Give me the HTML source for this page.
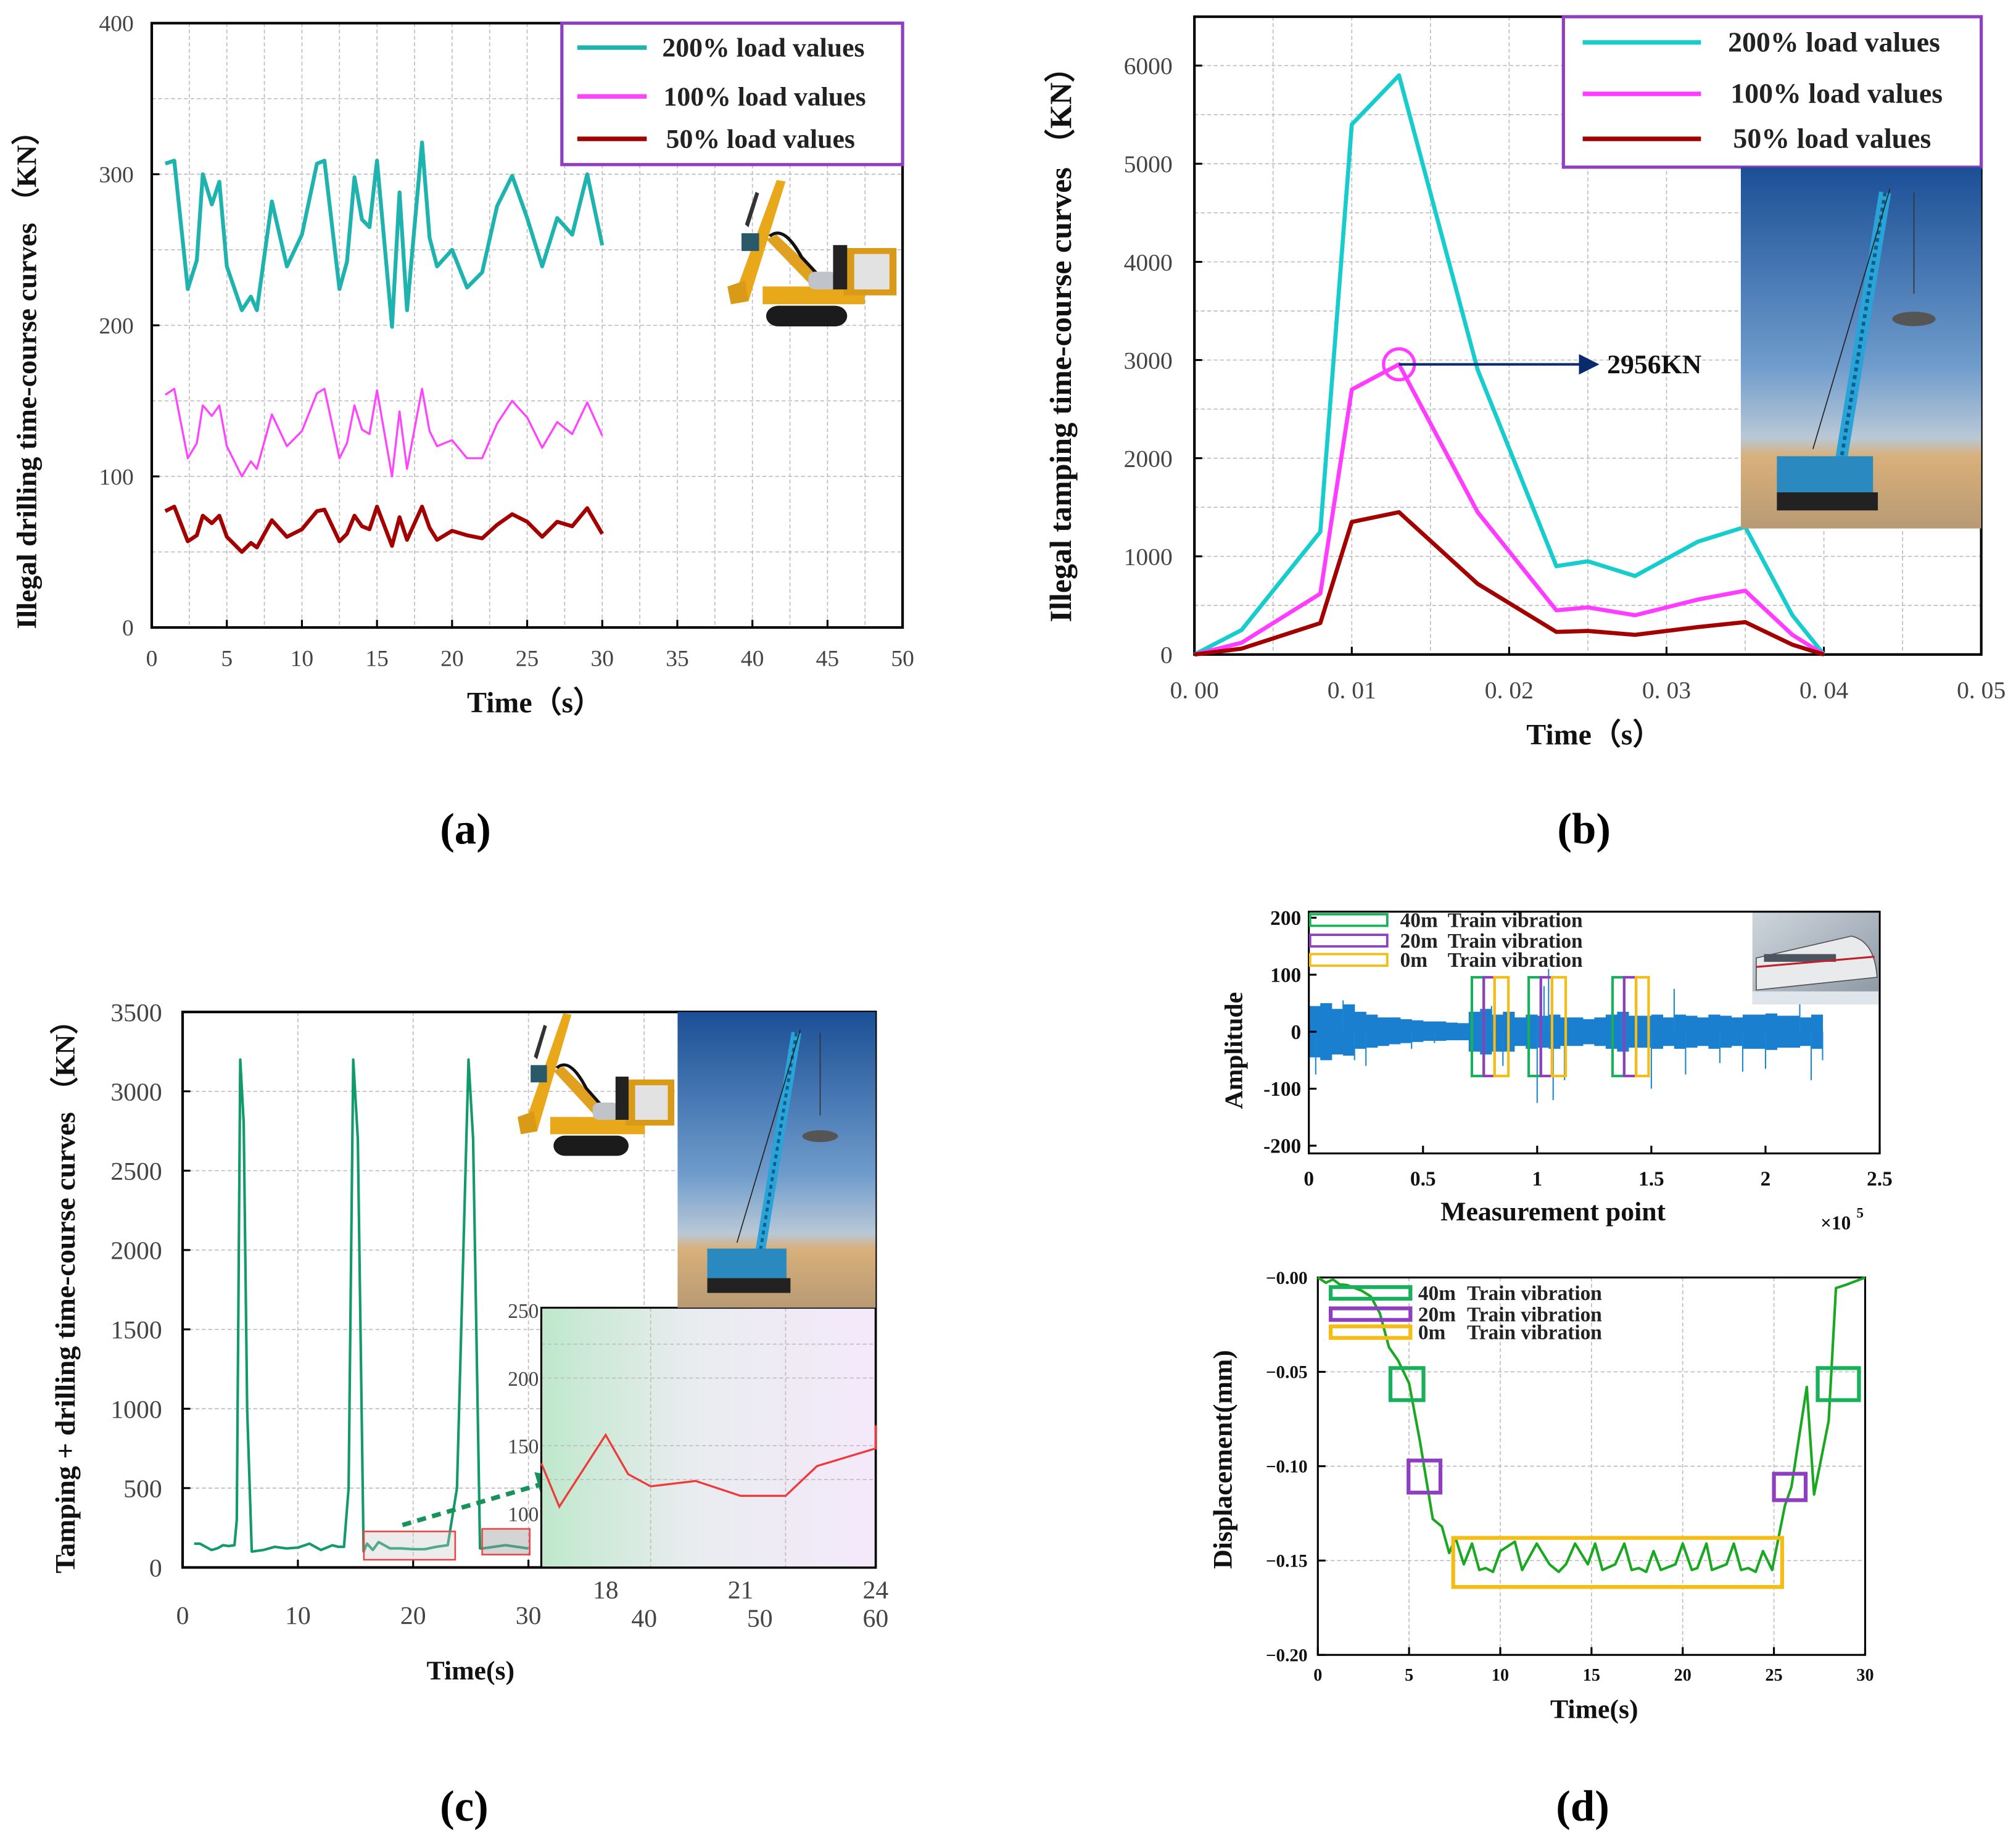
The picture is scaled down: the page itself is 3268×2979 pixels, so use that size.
<!DOCTYPE html>
<html><head><meta charset="utf-8"><style>
html,body{margin:0;padding:0;background:#fff;}
svg{display:block;}
text{font-family:"Liberation Serif",serif;}
</style></head><body>
<svg id="fig" xmlns="http://www.w3.org/2000/svg" width="3268" height="2979" viewBox="0 0 1568 1429.4">
<defs>
<linearGradient id="sky" x1="0" y1="0" x2="0" y2="1"><stop offset="0" stop-color="#1b4f96"/><stop offset="0.55" stop-color="#6f9ccc"/><stop offset="0.75" stop-color="#b9c8d6"/><stop offset="0.8" stop-color="#d8b07a"/><stop offset="1" stop-color="#b89a74"/></linearGradient>
<linearGradient id="insetbg" x1="0" y1="0" x2="1" y2="0"><stop offset="0" stop-color="#bfe8cc"/><stop offset="0.45" stop-color="#e9ecef"/><stop offset="1" stop-color="#f4e9fb"/></linearGradient>
<linearGradient id="trainbg" x1="0" y1="0" x2="1" y2="1"><stop offset="0" stop-color="#cfd6dd"/><stop offset="1" stop-color="#8a96a3"/></linearGradient>
<marker id="arrB" markerWidth="8" markerHeight="8" refX="6" refY="4" orient="auto"><path d="M0,0 L8,4 L0,8 z" fill="#0a2a6e"/></marker>
<marker id="arrG" markerWidth="6" markerHeight="6" refX="4" refY="3" orient="auto"><path d="M0,0 L6,3 L0,6 z" fill="#17925a"/></marker>
</defs>
</svg>
<script>
// ---------- Panel (a) data ----------
const aTime = [0.9,1.5,2.4,3,3.4,4,4.5,5,6,6.6,7,8,9,10,11,11.5,12.5,13,13.5,14,14.5,15,16,16.5,17,18,18.5,19,20,21,22,23,24,25,26,27,28,29,30];
const a200 = [307,309,224,243,300,280,295,239,210,219,210,282,239,260,307,309,224,242,298,270,265,309,199,288,210,321,258,239,250,225,235,279,299,271,239,271,260,300,253];
const a100 = [154,158,112,122,147,140,147,120,100,110,105,141,120,130,155,158,112,122,147,131,128,157,100,143,105,158,130,120,124,112,112,135,150,139,119,136,128,149,127];
const a50 = [77,80,57,61,74,69,74,60,50,56,53,71,60,65,77,78,57,62,74,67,65,80,54,73,58,80,66,58,64,61,59,68,75,70,60,70,67,79,62];
const aXTicks = [0,5,10,15,20,25,30,35,40,45,50];
const aYTicks = [0,100,200,300,400];
// ---------- Panel (b) data ----------
const bTime = [0,0.003,0.008,0.01,0.013,0.018,0.023,0.025,0.028,0.032,0.035,0.038,0.04];
const b200 = [0,250,1250,5400,5900,2900,900,950,800,1150,1300,400,0];
const b100 = [0,120,620,2700,2956,1450,450,480,400,560,650,200,0];
const b50 = [0,60,320,1350,1450,720,230,240,200,280,330,100,0];
const bXTicks = [0,0.01,0.02,0.03,0.04,0.05];
const bXLabels = ["0. 00","0. 01","0. 02","0. 03","0. 04","0. 05"];
const bYTicks = [0,1000,2000,3000,4000,5000,6000];
const bPeakValue = 2956;
// ---------- Panel (c) data ----------
const cTime = [1,1.5,2.5,3,3.5,4,4.5,4.7,5,5.3,5.6,6,7,8,9,10,11,12,13,13.5,14,14.4,14.8,15.2,15.7,16,16.5,17,18,19,20,21,22,23,23.8,24.8,25.2,25.8,26,27,28,29,30];
const cLoad = [150,150,110,120,140,135,140,300,3200,2800,1000,100,110,130,120,125,150,110,140,130,130,500,3200,2700,100,150,110,160,120,120,115,115,130,140,500,3200,2700,120,120,130,140,130,120];
const cXTicks = [0,10,20,30];
const cYTicks = [0,500,1000,1500,2000,2500,3000,3500];
const cInsetTime = [16.57,16.97,18,18.5,19,20,21,22,22.7,24,24];
const cInsetLoad = [137,105,158,129,120,124,113,113,135,148,165];
const cInsetYTicks = [100,150,200,250];
const cInsetXTicks = [18,21,24];
const cExtraXTicks = [40,50,60];
// ---------- Panel (d) top data ----------
const dBinStart = [0,0.05,0.1,0.15,0.2,0.25,0.3,0.35,0.4,0.45,0.5,0.55,0.6,0.65,0.7,0.75,0.8,0.85,0.9,0.95,1.0,1.05,1.1,1.15,1.2,1.25,1.3,1.35,1.4,1.45,1.5,1.55,1.6,1.65,1.7,1.75,1.8,1.85,1.9,1.95,2.0,2.05,2.1,2.15,2.2];
const dUpper = [45,50,40,48,35,30,25,25,22,20,18,18,16,15,35,40,30,35,25,30,28,30,25,25,22,25,30,35,28,28,30,25,30,28,25,30,28,25,30,30,32,28,28,25,30];
const dLower = [-45,-50,-40,-42,-30,-28,-25,-22,-20,-18,-16,-16,-15,-15,-35,-40,-35,-35,-25,-30,-28,-30,-25,-25,-22,-25,-30,-35,-28,-28,-30,-25,-30,-28,-25,-30,-28,-25,-30,-30,-32,-28,-28,-25,-30];
const dSpikeX = [0.03,0.15,0.2,0.25,0.45,0.55,0.8,0.85,1.0,1.03,1.05,1.07,1.12,1.5,1.6,1.65,1.8,1.9,2.0,2.15,2.2,2.25];
const dSpikeY = [-75,55,-50,-60,-30,-20,45,-60,-125,80,110,-120,-85,-100,75,-75,-55,-70,-65,55,-85,-50];
const dXTicks = [0,0.5,1,1.5,2,2.5];
const dYTicks = [-200,-100,0,100,200];
// ---------- Panel (d) bottom data ----------
const eTime = [0,0.44,0.83,1.2,1.6,2.4,2.9,3.4,3.9,4.4,5,5.6,6.3,6.8,7.2,7.55,8,8.45,8.85,9.2,9.6,10,10.8,11.2,12,12.7,13.2,13.6,14.1,14.8,15.2,15.6,16.3,16.8,17.2,17.6,18,18.4,18.8,19.6,20,20.5,20.8,21.3,21.6,22.4,22.8,23.2,23.6,24,24.4,24.9,25.6,25.96,26.8,27.2,28,28.4,29,30];
const eDisp = [0,-0.0028,-0.001,-0.0037,-0.004,-0.007,-0.01,-0.019,-0.037,-0.044,-0.056,-0.087,-0.128,-0.132,-0.146,-0.138,-0.152,-0.141,-0.155,-0.154,-0.156,-0.145,-0.140,-0.155,-0.141,-0.152,-0.156,-0.152,-0.141,-0.152,-0.141,-0.155,-0.152,-0.141,-0.155,-0.154,-0.156,-0.145,-0.155,-0.152,-0.141,-0.155,-0.154,-0.141,-0.155,-0.152,-0.141,-0.155,-0.154,-0.156,-0.145,-0.155,-0.121,-0.111,-0.058,-0.115,-0.076,-0.0056,-0.0037,0];
const eXTicks = [0,5,10,15,20,25,30];
const eYTicks = [0,-0.05,-0.1,-0.15,-0.2];
const eYLabels = ["\u22120.00","\u22120.05","\u22120.10","\u22120.15","\u22120.20"];

const NS = "http://www.w3.org/2000/svg";
const svg = document.getElementById('fig');
function mk(tag, attrs, parent){
  const e = document.createElementNS(NS, tag);
  for (const k in attrs) e.setAttribute(k, attrs[k]);
  (parent || svg).appendChild(e);
  return e;
}
function txt(str, attrs, parent){
  const t = mk('text', attrs, parent);
  t.textContent = str;
  return t;
}
function scale(d0, d1, r0, r1){ return v => r0 + (v - d0) * (r1 - r0) / (d1 - d0); }
function pts(xs, ys, sx, sy){ return xs.map((x,i)=> sx(x).toFixed(2)+','+sy(ys[i]).toFixed(2)).join(' '); }

function gridV(vals, sx, y0, y1, name, g){
  vals.forEach(v=>{
    const l = mk('line',{x1:sx(v),x2:sx(v),y1:y0,y2:y1,stroke:'#bdbdbd','stroke-width':0.8,'stroke-dasharray':'3,2'}, g);
    
    
  });
}
function gridH(vals, sy, x0, x1, name, g){
  vals.forEach(v=>{
    const l = mk('line',{x1:x0,x2:x1,y1:sy(v),y2:sy(v),stroke:'#bdbdbd','stroke-width':0.8,'stroke-dasharray':'3,2'}, g);
    
    
  });
}
function frame(x0,y0,x1,y1,g,w){
  const r = mk('rect',{x:x0,y:y0,width:x1-x0,height:y1-y0,fill:'none',stroke:'#000','stroke-width':w||2}, g);
  
  
}
function xTicks(vals, labels, sx, y, ly, size, g, opts){
  vals.forEach((v,i)=>{
    const t = mk('line',{x1:sx(v),x2:sx(v),y1:y,y2:y-6,stroke:'#000','stroke-width':1.5}, g);
    
    
    const l = txt(labels[i], {x:sx(v),y:ly,'text-anchor':'middle','font-size':size,fill:(opts&&opts.fill)||'#444','font-weight':(opts&&opts.bold)?'bold':'normal'}, g);
    
    
  });
}
function yTicks(vals, labels, sy, x, lx, size, g, opts){
  vals.forEach((v,i)=>{
    const t = mk('line',{x1:x,x2:x+6,y1:sy(v),y2:sy(v),stroke:'#000','stroke-width':1.5}, g);
    
    
    const l = txt(labels[i], {x:lx,y:sy(v)+size*0.35,'text-anchor':'end','font-size':size,fill:(opts&&opts.fill)||'#444','font-weight':(opts&&opts.bold)?'bold':'normal'}, g);
    
    
  });
}
function drill(x, y, w, h, name){
  const g = mk('g',{transform:`translate(${x},${y}) scale(${w/100},${h/100})`});
  
  
  mk('rect',{x:24,y:85,width:46,height:14,rx:7,fill:'#1b1b1b'}, g);
  mk('path',{d:'M6,78 L30,0 L35,1 L14,82 Z',fill:'#e8a81a'}, g);
  mk('path',{d:'M12,30 L18,8 L20,9 L14,32 Z',fill:'#333'}, g);
  mk('rect',{x:10,y:36,width:10,height:12,fill:'#2a5a6a'}, g);
  mk('path',{d:'M24,40 L30,37 L62,73 L55,78 Z',fill:'#e0a020'}, g);
  mk('path',{d:'M26,38 Q34,30 44,52 L58,70',fill:'none',stroke:'#111','stroke-width':2}, g);
  mk('rect',{x:22,y:72,width:58,height:12,fill:'#e8a81a'}, g);
  mk('rect',{x:48,y:62,width:16,height:12,rx:4,fill:'#c0c4c8'}, g);
  mk('rect',{x:68,y:46,width:30,height:32,fill:'#d99a18'}, g);
  mk('rect',{x:74,y:50,width:20,height:24,fill:'#e2e2e2'}, g);
  mk('rect',{x:62,y:44,width:8,height:30,fill:'#222'}, g);
  mk('path',{d:'M2,72 L12,68 L14,82 L4,84 Z',fill:'#d99a18'}, g);
  return g;
}
function crane(x, y, w, h, name){
  const g = mk('g',{}); 
  
  mk('rect',{x:x,y:y,width:w,height:h,fill:'url(#sky)'}, g);
  mk('path',{d:`M${x+w*0.6},${y+h*0.07} L${x+w*0.4},${y+h*0.88}`,stroke:'#2aa3d8','stroke-width':w*0.05}, g);
  mk('path',{d:`M${x+w*0.6},${y+h*0.07} L${x+w*0.4},${y+h*0.88}`,stroke:'#0d5f8a','stroke-width':w*0.015,'stroke-dasharray':'3,3'}, g);
  mk('path',{d:`M${x+w*0.62},${y+h*0.06} L${x+w*0.3},${y+h*0.78}`,stroke:'#222','stroke-width':0.8}, g);
  mk('line',{x1:x+w*0.72,y1:y+h*0.07,x2:x+w*0.72,y2:y+h*0.35,stroke:'#333','stroke-width':0.8}, g);
  mk('ellipse',{cx:x+w*0.72,cy:y+h*0.42,rx:w*0.09,ry:h*0.02,fill:'#555'}, g);
  mk('rect',{x:x+w*0.15,y:y+h*0.8,width:w*0.4,height:h*0.1,fill:'#2a8ac0'}, g);
  mk('rect',{x:x+w*0.15,y:y+h*0.9,width:w*0.42,height:h*0.05,fill:'#222'}, g);
  return g;
}

// ===================== PANEL A =====================
(function(){
  const g = mk('g',{});  
  const sx = scale(0,50,118,702), sy = scale(0,400,488,18);
  gridV([2.5,5,7.5,10,12.5,15,17.5,20,22.5,25,27.5,30,32.5,35,37.5,40,42.5,45,47.5], sx, 18, 488, 'grid-line-vertical', g);
  gridH([50,100,150,200,250,300,350], sy, 118, 702, 'grid-line-horizontal', g);
  drill(563,140,137,115,'drill-rig-photo');
  frame(118,18,702,488,g);
  xTicks(aXTicks, aXTicks.map(String), sx, 488, 518, 18, g);
  yTicks(aYTicks, aYTicks.map(String), sy, 118, 104, 18, g);
  [[a200,'#1fb3b0',3,'line-200pct'],[a100,'#ff44ff',1.6,'line-100pct'],[a50,'#a30000',3,'line-50pct']].forEach(s=>{
    const p = mk('polyline',{points:pts(aTime,s[0],sx,sy),fill:'none',stroke:s[1],'stroke-width':s[2],'stroke-linejoin':'round'}, g);
    
    
  });
  const lg = mk('g',{}, g);  
  mk('rect',{x:437,y:18,width:265,height:110,fill:'#fff',stroke:'#8e3fbf','stroke-width':2.5}, lg);
  [['#1fb3b0',37,'200% load values',515],['#ff44ff',75,'100% load values',516],['#a30000',108,'50% load values',518]].forEach(e=>{
    const l = mk('line',{x1:449,x2:503,y1:e[1],y2:e[1],stroke:e[0],'stroke-width':3.5}, lg);
     
    const t = txt(e[2],{x:e[3],y:e[1]+7,'font-size':21,'font-weight':'bold',fill:'#222'}, lg);
     
  });
  const yt = txt('Illegal drilling time-course curves （KN）',{x:28,y:290,'text-anchor':'middle','font-size':22,'font-weight':'bold',transform:'rotate(-90,28,290)',fill:'#111'}, g);
   
  const xt = txt('Time（s）',{x:416,y:554,'text-anchor':'middle','font-size':23,'font-weight':'bold',fill:'#111'}, g);
   
  const pl = txt('(a)',{x:362,y:656,'text-anchor':'middle','font-size':34,'font-weight':'bold',fill:'#000'}, g);
   
})();

// ===================== PANEL B =====================
(function(){
  const g = mk('g',{});  
  const sx = scale(0,0.05,929,1541), sy = scale(0,6000,509,51);
  gridV([0.005,0.01,0.015,0.02,0.025,0.03,0.035,0.04,0.045], sx, 13, 509, 'grid-line-vertical', g);
  gridH([500,1000,1500,2000,2500,3000,3500,4000,4500,5000,5500,6000], sy, 929, 1541, 'grid-line-horizontal', g);
  crane(1354,130,187,281,'crane-photo');
  frame(929,13,1541,509,g);
  xTicks(bXTicks, bXLabels, sx, 509, 543, 19, g);
  yTicks(bYTicks, bYTicks.map(String), sy, 929, 912, 19, g);
  [[b200,'#16cccc',3.2,'line-200pct'],[b100,'#ff3cff',3.2,'line-100pct'],[b50,'#a30000',3.2,'line-50pct']].forEach(s=>{
    const p = mk('polyline',{points:pts(bTime,s[0],sx,sy),fill:'none',stroke:s[1],'stroke-width':s[2],'stroke-linejoin':'round'}, g);
    
    
  });
  const c = mk('circle',{cx:sx(bTime[4]),cy:sy(bPeakValue),r:12,fill:'none',stroke:'#ff3cff','stroke-width':2.5}, g);
   
  const a = mk('line',{x1:sx(bTime[4]),y1:sy(bPeakValue),x2:1240,y2:sy(bPeakValue),stroke:'#0a2a6e','stroke-width':2,'marker-end':'url(#arrB)'}, g);
   
  const at = txt(bPeakValue+'KN',{x:1250,y:sy(bPeakValue)+7,'font-size':21,'font-weight':'bold',fill:'#111'}, g);
   
  const lg = mk('g',{}, g);  
  mk('rect',{x:1216,y:13,width:325,height:117,fill:'#fff',stroke:'#8e3fbf','stroke-width':2.5}, lg);
  [['#16cccc',33,'200% load values',1344],['#ff3cff',73,'100% load values',1346],['#a30000',108,'50% load values',1348]].forEach(e=>{
    const l = mk('line',{x1:1231,x2:1323,y1:e[1],y2:e[1],stroke:e[0],'stroke-width':3.5}, lg);
     
    const t = txt(e[2],{x:e[3],y:e[1]+7,'font-size':22,'font-weight':'bold',fill:'#222'}, lg);
     
  });
  const yt = txt('Illegal tamping time-course curves （KN）',{x:833,y:262,'text-anchor':'middle','font-size':24,'font-weight':'bold',transform:'rotate(-90,833,262)',fill:'#111'}, g);
   
  const xt = txt('Time（s）',{x:1240,y:579,'text-anchor':'middle','font-size':23,'font-weight':'bold',fill:'#111'}, g);
   
  const pl = txt('(b)',{x:1232,y:656,'text-anchor':'middle','font-size':34,'font-weight':'bold',fill:'#000'}, g);
   
})();

// ===================== PANEL C =====================
(function(){
  const g = mk('g',{});  
  const sx = scale(0,30,142,411), sy = scale(0,3500,1219,787);
  gridV([10,20,30], sx, 787, 1219, 'grid-line-vertical', g);
  gridV([40,50], scale(30,60,411,681), 787, 1219, 'grid-line-vertical', g);
  gridH([500,1000,1500,2000,2500,3000], sy, 142, 681, 'grid-line-horizontal', g);
  frame(142,787,681,1219,g);
  yTicks(cYTicks, cYTicks.map(String), sy, 142, 126, 20, g);
  xTicks(cXTicks, cXTicks.map(String), sx, 1219, 1263, 20, g);
  const ex = scale(30,60,411,681);
  cExtraXTicks.forEach(v=>{
    const l = txt(String(v),{x:ex(v),y:1265,'text-anchor':'middle','font-size':20,fill:'#444'}, g);
     
  });
  const p = mk('polyline',{points:pts(cTime,cLoad,sx,sy),fill:'none',stroke:'#129a6a','stroke-width':2,'stroke-linejoin':'round'}, g);
  
  
  const b1 = mk('rect',{x:283,y:1191,width:71,height:22,fill:'rgba(200,200,200,0.35)',stroke:'#f04040','stroke-width':1.2}, g);
   
  const b2 = mk('rect',{x:375,y:1189,width:37,height:20,fill:'rgba(160,160,160,0.45)',stroke:'#f04040','stroke-width':1.2}, g);
   
  const da = mk('line',{x1:313,y1:1186,x2:432,y2:1151,stroke:'#17925a','stroke-width':3.5,'stroke-dasharray':'7,5','marker-end':'url(#arrG)'}, g);
   
  drill(400,788,127,112,'drill-rig-photo');
  crane(527,787,154,230,'crane-photo');
  const ig = mk('g',{}, g);  
  const ix = scale(16.57,24,421,681), iy = scale(100,250,1177,1019);
  mk('rect',{x:421,y:1017,width:260,height:202,fill:'url(#insetbg)'}, ig);
  gridV([19,22], ix, 1017, 1219, 'inset-grid-vertical', ig);
  gridH([125,150,200,225], iy, 421, 681, 'inset-grid-horizontal', ig);
  const ifr = mk('rect',{x:421,y:1017,width:260,height:202,fill:'none',stroke:'#000','stroke-width':1.5}, ig);
   
  cInsetYTicks.forEach(v=>{
    const l = txt(String(v),{x:419,y:iy(v)+6,'text-anchor':'end','font-size':16,fill:'#444'}, ig);
     
  });
  cInsetXTicks.forEach(v=>{
    const l = txt(String(v),{x:ix(v),y:1243,'text-anchor':'middle','font-size':20,fill:'#444'}, ig);
     
  });
  const ip = mk('polyline',{points:pts(cInsetTime,cInsetLoad,ix,iy),fill:'none',stroke:'#f03a3a','stroke-width':1.6}, ig);
  
  
  const yt = txt('Tamping + drilling time-course curves （KN）',{x:58,y:1003,'text-anchor':'middle','font-size':22,'font-weight':'bold',transform:'rotate(-90,58,1003)',fill:'#111'}, g);
   
  const xt = txt('Time(s)',{x:366,y:1306,'text-anchor':'middle','font-size':21,'font-weight':'bold',fill:'#111'}, g);
   
  const pl = txt('(c)',{x:361,y:1416,'text-anchor':'middle','font-size':34,'font-weight':'bold',fill:'#000'}, g);
   
})();

// ===================== PANEL D (top) =====================
(function(){
  const g = mk('g',{});  
  const sx = scale(0,2.5,1018,1462), sy = scale(-200,200,891,713.7);
  dBinStart.forEach((b,i)=>{
    const r = mk('rect',{x:sx(b),y:sy(dUpper[i]),width:sx(0.05)-sx(0)+0.3,height:sy(dLower[i])-sy(dUpper[i]),fill:'#1a7fcf'}, g);
    
    
  });
  dSpikeX.forEach((x,i)=>{
    const l = mk('line',{x1:sx(x),x2:sx(x),y1:sy(0),y2:sy(dSpikeY[i]),stroke:'#1a86d6','stroke-width':1}, g);
    
    
  });
  const groups = [[0.714,0.766,0.813,0.874],[0.963,1.016,1.065,1.125],[1.33,1.381,1.433,1.488]];
  groups.forEach(gr=>{
    [['#18b05a',0,1,'box-40m'],['#8e3fbf',1,2,'box-20m'],['#f5bd14',2,3,'box-0m']].forEach(c=>{
      const r = mk('rect',{x:sx(gr[c[1]]),y:sy(95.5),width:sx(gr[c[2]])-sx(gr[c[1]]),height:sy(-77.7)-sy(95.5),fill:'none',stroke:c[0],'stroke-width':2}, g);
      
      
    });
  });
  const tr = mk('g',{}, g);  
  mk('rect',{x:1363,y:709,width:98,height:72,fill:'url(#trainbg)'}, tr);
  mk('path',{d:'M1366,745 L1440,728 Q1458,732 1460,760 L1366,770 Z',fill:'#e8eaec',stroke:'#555','stroke-width':0.8}, tr);
  mk('rect',{x:1372,y:742,width:56,height:6,fill:'#4a5560'}, tr);
  mk('line',{x1:1366,y1:752,x2:1458,y2:744,stroke:'#c0202a','stroke-width':1.5}, tr);
  mk('rect',{x:1363,y:771,width:98,height:10,fill:'#dfe5ea'}, tr);
  frame(1018,709,1462,897,g,1.5);
  xTicks(dXTicks, dXTicks.map(String), sx, 897, 922, 16, g, {bold:true,fill:'#111'});
  yTicks(dYTicks, ['-200','-100','0','100','200'], sy, 1018, 1012, 16, g, {bold:true,fill:'#111'});
  const lg = mk('g',{}, g);  
  [['#18b05a',711,'40m'],['#8e3fbf',727,'20m'],['#f5bd14',742,'0m']].forEach(e=>{
    const r = mk('rect',{x:1019,y:e[1],width:60,height:9,fill:'none',stroke:e[0],'stroke-width':1.8}, lg);
     
    const t = txt(e[2],{x:1089,y:e[1]+10,'font-size':16,'font-weight':'bold',fill:'#222'}, lg);
     
    const t2 = txt('Train vibration',{x:1126,y:e[1]+10,'font-size':16,'font-weight':'bold',fill:'#222'}, lg);
     
  });
  const yt = txt('Amplitude',{x:966,y:817,'text-anchor':'middle','font-size':20,'font-weight':'bold',transform:'rotate(-90,966,817)',fill:'#111'}, g);
   
  const xt = txt('Measurement point',{x:1208,y:949,'text-anchor':'middle','font-size':21,'font-weight':'bold',fill:'#111'}, g);
   
  const ex = txt('×10',{x:1416,y:956,'font-size':15,'font-weight':'bold',fill:'#111'}, g);
   
  const ex2 = txt('5',{x:1444,y:947,'font-size':11,'font-weight':'bold',fill:'#111'}, g);
   
})();

// ===================== PANEL D (bottom) =====================
(function(){
  const g = mk('g',{});  
  const sx = scale(0,30,1025,1450.7), sy = scale(0,-0.2,993.5,1287);
  gridV([5,10,15,20,25], sx, 993.5, 1287, 'grid-line-vertical', g);
  gridH([-0.05,-0.1,-0.15], sy, 1025, 1450.7, 'grid-line-horizontal', g);
  frame(1025,993.5,1450.7,1287,g,1.5);
  xTicks(eXTicks, eXTicks.map(String), sx, 1287, 1307, 13.5, g, {bold:true,fill:'#111'});
  yTicks(eYTicks, eYLabels, sy, 1025, 1017, 14, g, {bold:true,fill:'#111'});
  const p = mk('polyline',{points:pts(eTime,eDisp,sx,sy),fill:'none',stroke:'#1aa822','stroke-width':2,'stroke-linejoin':'round'}, g);
  
  
  [['#18b05a',3.98,5.79,-0.048,-0.065,'box-40m'],['#8e3fbf',4.97,6.72,-0.097,-0.114,'box-20m'],['#f5bd14',7.42,25.45,-0.138,-0.164,'box-0m'],['#8e3fbf',25.0,26.74,-0.104,-0.118,'box-20m'],['#18b05a',27.4,29.66,-0.048,-0.065,'box-40m']].forEach(b=>{
    const r = mk('rect',{x:sx(b[1]),y:sy(b[3]),width:sx(b[2])-sx(b[1]),height:sy(b[4])-sy(b[3]),fill:'none',stroke:b[0],'stroke-width':3}, g);
    
    
  });
  const lg = mk('g',{}, g);  
  [['#18b05a',1001,'40m'],['#8e3fbf',1017.5,'20m'],['#f5bd14',1031.5,'0m']].forEach(e=>{
    const r = mk('rect',{x:1035,y:e[1],width:62,height:9,fill:'none',stroke:e[0],'stroke-width':3}, lg);
     
    const t = txt(e[2],{x:1103,y:e[1]+10,'font-size':16,'font-weight':'bold',fill:'#222'}, lg);
     
    const t2 = txt('Train vibration',{x:1141,y:e[1]+10,'font-size':16,'font-weight':'bold',fill:'#222'}, lg);
     
  });
  const yt = txt('Displacement(mm)',{x:958,y:1135,'text-anchor':'middle','font-size':21,'font-weight':'bold',transform:'rotate(-90,958,1135)',fill:'#111'}, g);
   
  const xt = txt('Time(s)',{x:1240,y:1336,'text-anchor':'middle','font-size':21,'font-weight':'bold',fill:'#111'}, g);
   
  const pl = txt('(d)',{x:1231,y:1416,'text-anchor':'middle','font-size':34,'font-weight':'bold',fill:'#000'}, g);
   
})();
</script>
</body></html>
